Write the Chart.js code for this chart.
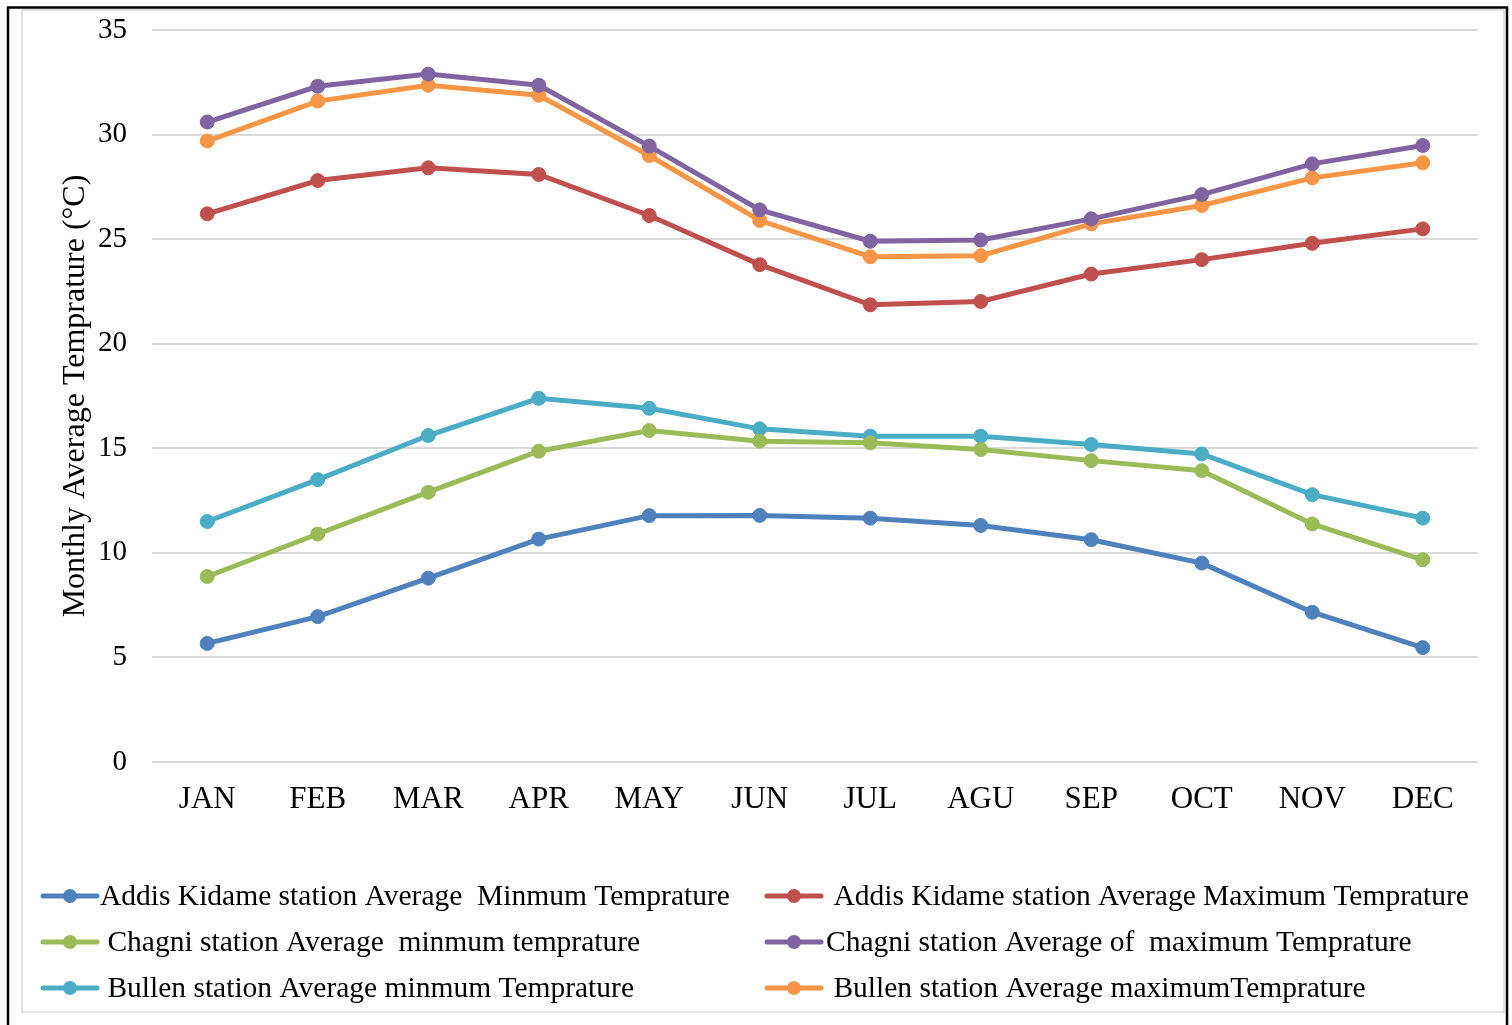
<!DOCTYPE html>
<html>
<head>
<meta charset="utf-8">
<script src="https://cdn.jsdelivr.net/npm/chart.js@4.4.1/dist/chart.umd.min.js"></script>
<style>
  html, body { margin: 0; padding: 0; background: #ffffff; }
  #wrap { position: relative; width: 1512px; height: 1025px; }
  canvas { display: block; }
</style>
</head>
<body>
<div id="wrap"><canvas id="chart" width="1512" height="1025"></canvas></div>
<script>
// Monthly average temperatures (°C) for three stations
const months = ['JAN', 'FEB', 'MAR', 'APR', 'MAY', 'JUN', 'JUL', 'AGU', 'SEP', 'OCT', 'NOV', 'DEC'];
const yTicks = [0, 5, 10, 15, 20, 25, 30, 35];

const addisMin   = [5.67, 6.95, 8.79, 10.66, 11.78, 11.79, 11.66, 11.31, 10.63, 9.51, 7.16, 5.47];
const addisMax   = [26.21, 27.8, 28.41, 28.09, 26.13, 23.78, 21.86, 22.02, 23.33, 24.02, 24.8, 25.49];
const chagniMin  = [8.87, 10.9, 12.9, 14.86, 15.85, 15.34, 15.26, 14.94, 14.41, 13.93, 11.38, 9.67];
const chagniMax  = [30.6, 32.31, 32.89, 32.36, 29.45, 26.4, 24.9, 24.96, 25.97, 27.13, 28.6, 29.48];
const bullenMin  = [11.5, 13.5, 15.61, 17.39, 16.91, 15.93, 15.58, 15.58, 15.18, 14.73, 12.78, 11.66];
const bullenMax  = [29.69, 31.6, 32.36, 31.88, 29.0, 25.89, 24.16, 24.21, 25.73, 26.61, 27.93, 28.65];

const seriesLabels = [
  'Addis Kidame station Average  Minmum Temprature',
  ' Addis Kidame station Average Maximum Temprature',
  ' Chagni station Average  minmum temprature',
  'Chagni station Average of  maximum Temprature',
  ' Bullen station Average minmum Temprature',
  ' Bullen station Average maximumTemprature'
];
const seriesData = [addisMin, addisMax, chagniMin, chagniMax, bullenMin, bullenMax];
const seriesColors = ['#4F81BD', '#C0504D', '#9BBB59', '#8064A2', '#4BACC6', '#F79646'];

const FONT = "'Liberation Serif', 'Times New Roman', serif";

// Page frame: outer black rule and light grey chart border
const framePlugin = {
  id: 'frame',
  beforeDraw(chart) {
    const ctx = chart.ctx;
    ctx.save();
    ctx.fillStyle = '#ffffff';
    ctx.fillRect(0, 0, chart.width, chart.height);
    ctx.strokeStyle = '#d9d9d9';
    ctx.lineWidth = 1.5;
    ctx.strokeRect(22, 10, 1482, 1002);
    ctx.strokeStyle = '#000000';
    ctx.lineWidth = 2.5;
    ctx.beginPath();
    ctx.moveTo(8, 1025);
    ctx.lineTo(8, 7.5);
    ctx.lineTo(1507, 7.5);
    ctx.lineTo(1507, 1025);
    ctx.stroke();
    ctx.restore();
  }
};

// Two-column legend under the plot, filled row by row from the datasets
const gridLegendPlugin = {
  id: 'gridLegend',
  afterDraw(chart) {
    const ctx = chart.ctx;
    const symbolX = [43, 767];
    const textX = [100, 826];
    const rowY = [896, 942, 988];
    ctx.save();
    chart.data.datasets.forEach((ds, i) => {
      const col = i % 2;
      const row = Math.floor(i / 2);
      const y = rowY[row];
      const x0 = symbolX[col];
      ctx.strokeStyle = ds.borderColor;
      ctx.lineWidth = 5;
      ctx.lineCap = 'round';
      ctx.beginPath();
      ctx.moveTo(x0, y);
      ctx.lineTo(x0 + 54, y);
      ctx.stroke();
      ctx.fillStyle = ds.borderColor;
      ctx.beginPath();
      ctx.arc(x0 + 27, y, 7, 0, Math.PI * 2);
      ctx.fill();
      ctx.fillStyle = '#000000';
      ctx.font = '29.5px ' + FONT;
      ctx.textBaseline = 'middle';
      ctx.textAlign = 'left';
      ctx.fillText(ds.label, textX[col], y + 1);
    });
    ctx.restore();
  }
};

new Chart(document.getElementById('chart'), {
  type: 'line',
  data: {
    labels: months,
    datasets: seriesData.map((d, i) => ({
      label: seriesLabels[i],
      data: d,
      borderColor: seriesColors[i],
      backgroundColor: seriesColors[i],
      pointBackgroundColor: seriesColors[i],
      pointBorderColor: seriesColors[i],
      pointBorderWidth: 1,
      pointRadius: 7,
      borderWidth: 5,
      tension: 0,
      fill: false
    }))
  },
  options: {
    responsive: false,
    devicePixelRatio: 1,
    animation: false,
    layout: { padding: { left: 0, right: 34, top: 30, bottom: 183 } },
    plugins: {
      legend: { display: false },
      tooltip: { enabled: false }
    },
    scales: {
      x: {
        type: 'category',
        offset: true,
        grid: { display: false, drawTicks: false },
        border: { display: false },
        ticks: {
          color: '#000000',
          font: { family: FONT, size: 31 },
          padding: 19,
          maxRotation: 0,
          autoSkip: false
        },
        afterFit(scale) { scale.height = 80; }
      },
      y: {
        min: yTicks[0],
        max: yTicks[yTicks.length - 1],
        afterBuildTicks(scale) { scale.ticks = yTicks.map(v => ({ value: v })); },
        grid: { color: '#d9d9d9', lineWidth: 2, drawTicks: false },
        border: { display: false },
        ticks: {
          color: '#000000',
          font: { family: FONT, size: 29 },
          padding: 25
        },
        title: {
          display: true,
          text: 'Monthly Average Temprature (°C)',
          color: '#000000',
          font: { family: FONT, size: 32 },
          padding: { top: 56, bottom: 0 }
        },
        afterFit(scale) {
          scale.width = 152;
          scale.paddingTop = 0;
          scale.paddingBottom = 0;
        }
      }
    }
  },
  plugins: [framePlugin, gridLegendPlugin]
});
</script>
</body>
</html>
